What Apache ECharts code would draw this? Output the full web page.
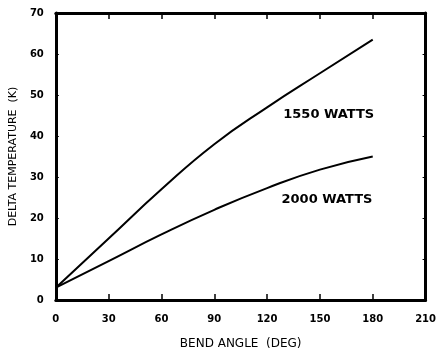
<!DOCTYPE html>
<html><head><meta charset="utf-8">
<script src="https://cdn.jsdelivr.net/npm/echarts@6/dist/echarts.min.js"></script>
<style>html,body{margin:0;padding:0;background:#fff}#c{width:439px;height:355px}</style>
</head><body><div id="c"></div>
<script>
const angles = [0, 30, 60, 90, 120, 150, 180];
const watts1550 = [3, 15, 27, 38, 47, 55.3, 63.5];
const watts2000 = [3, 9.5, 16, 22, 27.3, 31.8, 35];
const xTicks = [0, 30, 60, 90, 120, 150, 180, 210];
const yTicks = [0, 10, 20, 30, 40, 50, 60, 70];
const label1550 = {text: '1550 WATTS', at: [155, 45.3]};
const label2000 = {text: '2000 WATTS', at: [154, 24.6]};

const zip = (xs, ys) => xs.map((x, i) => [x, ys[i]]);
const axisLine = {show: true, onZero: false, lineStyle: {color: '#000', width: 3}};
const tickFont = {color: '#000', fontSize: 10, fontWeight: 'bold', fontFamily: 'DejaVu Sans'};
const labelFont = {color: '#000', fontSize: 13, fontWeight: 'bold', fontFamily: 'DejaVu Sans'};
const chart = echarts.init(document.getElementById('c'));
chart.setOption({
  animation: false,
  backgroundColor: '#fff',
  grid: {left: 47, right: 9, top: 13, bottom: 44},
  xAxis: [
    {type: 'value', min: 0, max: 210, interval: 30, position: 'bottom',
     axisLine, axisTick: {show: true, inside: true, length: 6, lineStyle: {color: '#000', width: 1.5}},
     axisLabel: Object.assign({margin: 14, formatter: v => xTicks.includes(v) ? String(v) : ''}, tickFont),
     splitLine: {show: false},
     name: 'BEND ANGLE  (DEG)', nameLocation: 'middle', nameGap: 38,
     nameTextStyle: {color: '#000', fontSize: 12, fontFamily: 'DejaVu Sans'}},
    {type: 'value', min: 0, max: 210, interval: 30, position: 'top',
     axisLine, axisTick: {show: true, inside: true, length: 6, lineStyle: {color: '#000', width: 1.5}},
     axisLabel: {show: false}, splitLine: {show: false}}
  ],
  yAxis: [
    {type: 'value', min: 0, max: 70, interval: 10, position: 'left',
     axisLine, axisTick: {show: true, inside: true, length: 3, lineStyle: {color: '#000', width: 1}},
     axisLabel: Object.assign({margin: 12, formatter: v => yTicks.includes(v) ? String(v) : ''}, tickFont),
     splitLine: {show: false},
     name: 'DELTA TEMPERATURE  (K)', nameLocation: 'middle', nameGap: 32,
     nameTextStyle: {color: '#000', fontSize: 11, fontFamily: 'DejaVu Sans'}},
    {type: 'value', min: 0, max: 70, interval: 10, position: 'right',
     axisLine, axisTick: {show: true, inside: true, length: 3, lineStyle: {color: '#000', width: 1}},
     axisLabel: {show: false}, splitLine: {show: false}}
  ],
  series: [
    {type: 'line', data: zip(angles, watts1550), smooth: 0.5, symbol: 'none',
     lineStyle: {color: '#000', width: 2},
     markPoint: {symbol: 'circle', symbolSize: 0,
       label: Object.assign({show: true, position: 'inside', formatter: label1550.text}, labelFont),
       data: [{coord: label1550.at}]}},
    {type: 'line', data: zip(angles, watts2000), smooth: 0.5, symbol: 'none',
     lineStyle: {color: '#000', width: 2},
     markPoint: {symbol: 'circle', symbolSize: 0,
       label: Object.assign({show: true, position: 'inside', formatter: label2000.text}, labelFont),
       data: [{coord: label2000.at}]}}
  ]
});
</script></body></html>
